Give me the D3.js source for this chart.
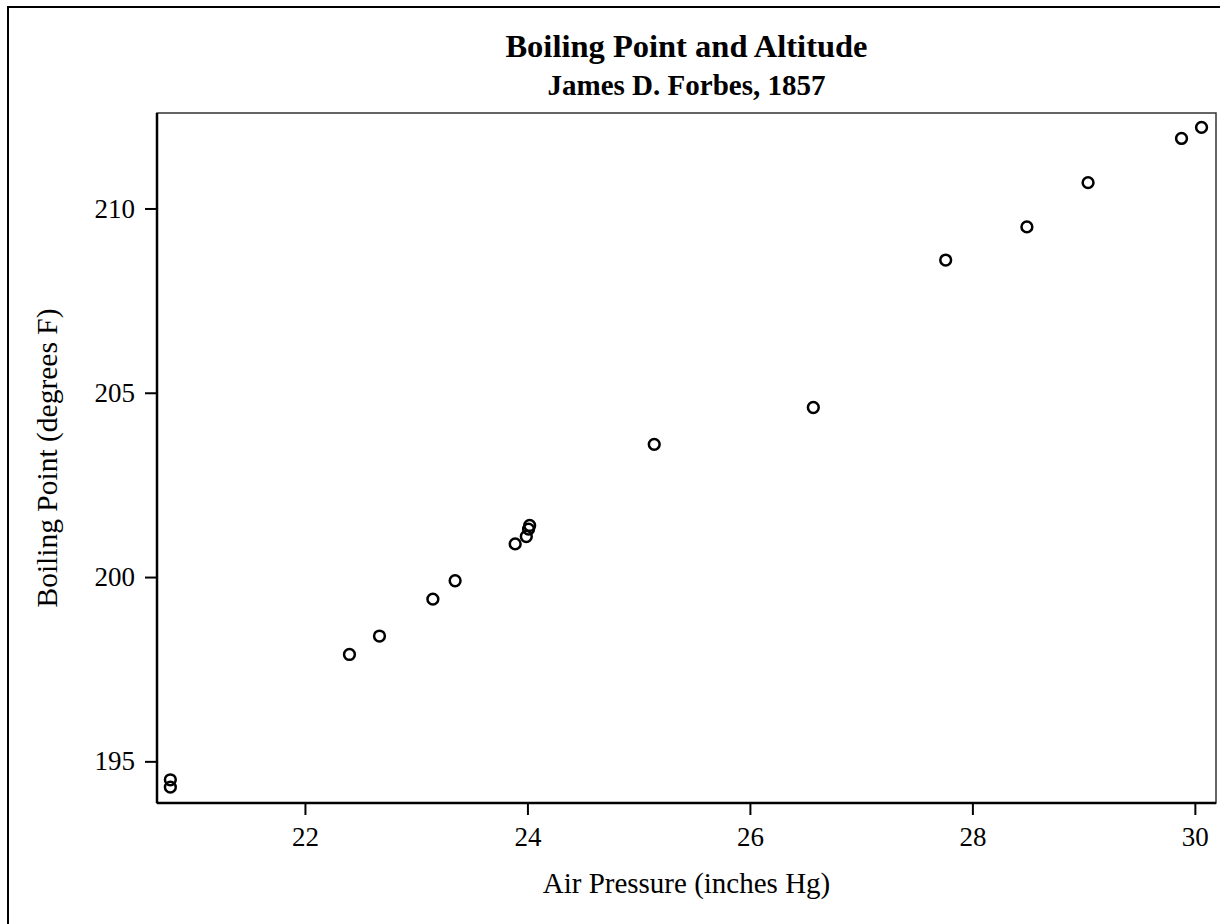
<!DOCTYPE html>
<html>
<head>
	<title>Boiling Point and Altitude</title>
	<script src="https://d3js.org/d3.v7.min.js" charset="utf-8"></script>
	<style>
		body { margin: 0; background: #fff; }
		text { font-family: "Liberation Serif", "Times New Roman", serif; fill: #000; }
	</style>
</head>
<body>
	<svg width="1220" height="924"></svg>
	<script>
		// Forbes (1857) boiling point vs barometric pressure
		const pressure = [20.79, 20.79, 22.40, 22.67, 23.15, 23.35, 23.89, 23.99, 24.02, 24.01, 25.14, 26.57, 28.49, 27.76, 29.04, 29.88, 30.06];
		const boiling = [194.5, 194.3, 197.9, 198.4, 199.4, 199.9, 200.9, 201.1, 201.4, 201.3, 203.6, 204.6, 209.5, 208.6, 210.7, 211.9, 212.2];
		const xTicks = [22, 24, 26, 28, 30];
		const yTicks = [195, 200, 205, 210];

		const plotL = 157, plotR = 1216, plotT = 113, plotB = 803;

		var svg = d3.select('svg');

		// outer frame
		svg.append('rect')
			.attr('x', 8).attr('y', 7)
			.attr('width', 1240).attr('height', 940)
			.attr('fill', 'none').attr('stroke', '#000').attr('stroke-width', 2);

		const xScale = d3.scaleLinear().domain([20.67, 30.19]).range([plotL, plotR]);
		const yScale = d3.scaleLinear().domain([193.87, 212.59]).range([plotB, plotT]);

		// plot box, top/right lighter
		svg.append('rect')
			.attr('x', plotL).attr('y', plotT)
			.attr('width', plotR - plotL).attr('height', plotB - plotT)
			.attr('fill', 'none').attr('stroke', '#333').attr('stroke-width', 1.5);

		const xAxis = svg.append('g')
			.attr('transform', `translate(0,${plotB})`)
			.call(d3.axisBottom(xScale).tickValues(xTicks).tickSize(12).tickPadding(12).tickSizeOuter(0));
		const yAxis = svg.append('g')
			.attr('transform', `translate(${plotL},0)`)
			.call(d3.axisLeft(yScale).tickValues(yTicks).tickSize(12).tickPadding(10).tickSizeOuter(0));

		[xAxis, yAxis].forEach(function(a) {
			a.select('.domain').attr('stroke', '#000').attr('stroke-width', 2.5);
			a.selectAll('.tick line').attr('stroke', '#000').attr('stroke-width', 2);
			a.selectAll('.tick text').style('font-size', '27px').style('font-family', '"Liberation Serif", serif');
		});
		xAxis.select('.domain').attr('d', `M${plotL},0H${plotR}`);
		yAxis.select('.domain').attr('d', `M0,${plotT}V${plotB}`);

		// points
		svg.append('g').selectAll('circle')
			.data(pressure)
			.enter()
			.append('circle')
			.attr('cx', function(d) { return xScale(d); })
			.attr('cy', function(d, i) { return yScale(boiling[i]); })
			.attr('r', 5.4)
			.attr('fill', 'none')
			.attr('stroke', '#000')
			.attr('stroke-width', 2.5);

		// titles
		const cx = (plotL + plotR) / 2;
		svg.append('text').attr('x', cx).attr('y', 57)
			.attr('text-anchor', 'middle').style('font-size', '32.5px').style('font-weight', 'bold')
			.text('Boiling Point and Altitude');
		svg.append('text').attr('x', cx).attr('y', 95)
			.attr('text-anchor', 'middle').style('font-size', '29px').style('font-weight', 'bold')
			.text('James D. Forbes, 1857');

		svg.append('text').attr('x', cx).attr('y', 893)
			.attr('text-anchor', 'middle').style('font-size', '29px')
			.text('Air Pressure (inches Hg)');
		svg.append('text')
			.attr('transform', `translate(57,${(plotT + plotB) / 2}) rotate(-90)`)
			.attr('text-anchor', 'middle').style('font-size', '29.5px')
			.text('Boiling Point (degrees F)');
	</script>
</body>
</html>
